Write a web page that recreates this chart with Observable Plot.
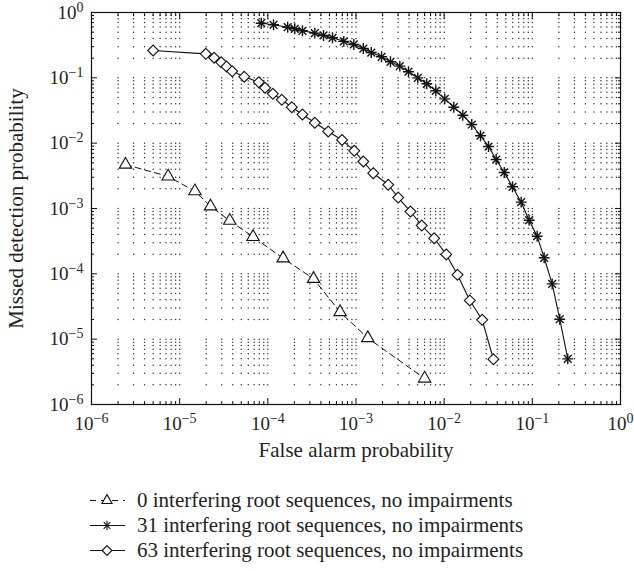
<!DOCTYPE html>
<html><head><meta charset="utf-8">
<script src="https://cdn.jsdelivr.net/npm/d3@7"></script>
<script src="https://cdn.jsdelivr.net/npm/@observablehq/plot@0.6"></script>
<style>
body{margin:0;background:#fff;font-family:"Liberation Serif",serif;color:#231f20}
#legend{margin-top:13px}
.row{height:25px;display:flex;align-items:center;font-size:21px;white-space:nowrap}
.row svg{margin-left:90px;margin-right:11px;flex:none}
</style></head><body>
<div id="chart"></div><div id="legend"></div>
<script>
const xLabel = "False alarm probability";
const yLabel = "Missed detection probability";
const majorTicks = [1e-6, 1e-5, 1e-4, 1e-3, 1e-2, 1e-1, 1];
const seriesNames = [
  "0 interfering root sequences, no impairments",
  "31 interfering root sequences, no impairments",
  "63 interfering root sequences, no impairments"
];
// 0 interfering (triangles, dashed)
const s0x = [2.43e-6, 7.4e-6, 1.49e-5, 2.24e-5, 3.7e-5, 6.8e-5, 1.49e-4, 3.3e-4, 6.6e-4, 1.36e-3, 6.0e-3];
const s0y = [4.7e-3, 3.1e-3, 1.84e-3, 1.08e-3, 6.5e-4, 3.68e-4, 1.73e-4, 8.4e-5, 2.6e-5, 1.04e-5, 2.5e-6];
// 31 interfering (stars)
const s31x = [8.42e-5, 1.16e-4, 1.68e-4, 2.02e-4, 2.47e-4, 3.41e-4, 4.28e-4, 5.41e-4, 7.27e-4, 9.44e-4, 1.21e-3, 1.49e-3, 1.95e-3, 2.46e-3, 3.14e-3, 3.94e-3, 5.02e-3, 6.35e-3, 8.04e-3, 1.016e-2, 1.286e-2, 1.626e-2, 2.056e-2, 2.582e-2, 3.184e-2, 3.89e-2, 4.80e-2, 5.96e-2, 7.47e-2, 9.20e-2, 0.1134, 0.1362, 0.1679, 0.2047, 0.2523];
const s31y = [0.686, 0.648, 0.596, 0.563, 0.525, 0.483, 0.445, 0.410, 0.362, 0.324, 0.281, 0.244, 0.210, 0.176, 0.151, 0.124, 0.100, 0.0811, 0.0633, 0.0477, 0.0355, 0.0268, 0.0193, 0.0130, 8.89e-3, 5.62e-3, 3.56e-3, 2.15e-3, 1.25e-3, 6.62e-4, 3.77e-4, 1.76e-4, 7.03e-5, 2.02e-5, 5.0e-6];
// 63 interfering (diamonds)
const s63x = [5.0e-6, 1.98e-5, 2.46e-5, 2.96e-5, 3.4e-5, 3.94e-5, 5.4e-5, 7.9e-5, 9.3e-5, 1.14e-4, 1.44e-4, 1.87e-4, 2.47e-4, 3.41e-4, 4.84e-4, 6.94e-4, 9.55e-4, 1.21e-3, 1.57e-3, 2.32e-3, 3.01e-3, 4.15e-3, 5.57e-3, 7.7e-3, 1.055e-2, 1.416e-2, 1.953e-2, 2.70e-2, 3.62e-2];
const s63y = [0.262, 0.233, 0.203, 0.173, 0.149, 0.126, 0.104, 0.0858, 0.0704, 0.057, 0.0461, 0.0355, 0.0275, 0.0205, 0.0151, 0.0112, 7.64e-3, 5.24e-3, 3.47e-3, 2.31e-3, 1.47e-3, 8.99e-4, 5.49e-4, 3.50e-4, 1.98e-4, 9.66e-5, 3.91e-5, 1.98e-5, 4.93e-6];

const toRows = (xs, ys) => xs.map((x, i) => ({x, y: ys[i]}));
const d0 = toRows(s0x, s0y), d31 = toRows(s31x, s31y), d63 = toRows(s63x, s63y);

const minorTicks = [];
for (let k = 0; k < majorTicks.length - 1; k++) for (let m = 2; m <= 9; m++) minorTicks.push(m * majorTicks[k]);
const allTicks = majorTicks.concat(minorTicks);
// dotted grid rendered as points at the grid-line crossings
const gridPts = [];
allTicks.forEach(gx => allTicks.forEach(gy => gridPts.push({x: gx, y: gy})));
const fmt = d => { const e = Math.round(Math.log10(d)); return "10^" + (e < 0 ? "\u2212" + (-e) : String(e)); };

const ink = "#111";
const noText = () => "";
const tk = (data, o) => (o.anchor === "top" || o.anchor === "bottom" ? Plot.axisX : Plot.axisY)(data, {label: null, tickFormat: noText, stroke: ink, ...o});

const chart = Plot.plot({
  width: 634, height: 475,
  marginLeft: 91, marginRight: 14, marginTop: 12, marginBottom: 71,
  style: {fontFamily: "Liberation Serif, serif", fontSize: "19px", color: "#231f20", background: "#fff"},
  x: {type: "log", domain: [1e-6, 1], axis: null},
  y: {type: "log", domain: [1e-6, 1], axis: null},
  marks: [
    Plot.dot(gridPts, {x: "x", y: "y", r: 0.75, fill: "#333", stroke: null}),
    // inward ticks
    tk(majorTicks, {anchor: "bottom", tickSize: 6, dy: -6}),
    tk(minorTicks, {anchor: "bottom", tickSize: 3, dy: -3}),
    tk(majorTicks, {anchor: "top", tickSize: 6, dy: 6}),
    tk(minorTicks, {anchor: "top", tickSize: 3, dy: 3}),
    tk(majorTicks, {anchor: "left", tickSize: 6, dx: 6}),
    tk(minorTicks, {anchor: "left", tickSize: 3, dx: 3}),
    tk(majorTicks, {anchor: "right", tickSize: 6, dx: -6}),
    tk(minorTicks, {anchor: "right", tickSize: 3, dx: -3}),
    // tick labels
    Plot.axisX(majorTicks, {anchor: "bottom", label: null, tickSize: 0, tickPadding: 12, tickFormat: fmt, fill: "#231f20"}),
    Plot.axisY(majorTicks, {anchor: "left", label: null, tickSize: 0, tickPadding: 8, tickFormat: fmt, fill: "#231f20"}),
    Plot.frame({stroke: ink, strokeWidth: 1.2}),
    // series
    Plot.line(d0, {x: "x", y: "y", stroke: ink, strokeWidth: 1, strokeDasharray: "6,4"}),
    Plot.line(d31, {x: "x", y: "y", stroke: ink, strokeWidth: 1.1}),
    Plot.line(d63, {x: "x", y: "y", stroke: ink, strokeWidth: 1.1}),
    Plot.dot(d0, {x: "x", y: "y", symbol: "triangle", r: 4.6, fill: "#fff", stroke: ink, strokeWidth: 1.1}),
    Plot.dot(d63, {x: "x", y: "y", symbol: "diamond2", r: 4.9, fill: "#fff", stroke: ink, strokeWidth: 1.1}),
    Plot.dot(d31, {x: "x", y: "y", symbol: "plus", r: 3.6, stroke: ink, strokeWidth: 1.4}),
    Plot.dot(d31, {x: "x", y: "y", symbol: "times", r: 3.6, stroke: ink, strokeWidth: 1.4}),
    // axis titles
    Plot.text([xLabel], {frameAnchor: "bottom", text: d => d, dy: 52, fontSize: 21, fill: "#231f20"}),
    Plot.text([yLabel], {frameAnchor: "left", textAnchor: "middle", text: d => d, rotate: -90, dx: -75, fontSize: 21, fill: "#231f20"})
  ]
});

// superscript exponents in tick labels
chart.querySelectorAll("text").forEach(t => {
  const s = t.textContent;
  const m = /^10\^(.+)$/.exec(s);
  if (!m) return;
  while (t.firstChild) t.removeChild(t.firstChild);
  const ns = "http://www.w3.org/2000/svg";
  const a = document.createElementNS(ns, "tspan"); a.textContent = "10";
  const b = document.createElementNS(ns, "tspan"); b.textContent = m[1];
  b.setAttribute("dy", "-0.5em"); b.setAttribute("font-size", "14px");
  t.appendChild(a); t.appendChild(b);
});
document.getElementById("chart").appendChild(chart);

// legend
const legend = document.getElementById("legend");
const specs = [
  {name: seriesNames[0], dash: "6,5", sym: [d3.symbolTriangle], size: 45, fill: "#fff"},
  {name: seriesNames[1], dash: null, sym: [d3.symbolPlus, d3.symbolTimes], size: 30, fill: "none"},
  {name: seriesNames[2], dash: null, sym: [d3.symbolDiamond2], size: 60, fill: "#fff"}
];
specs.forEach(s => {
  const row = document.createElement("div"); row.className = "row";
  const svg = d3.create("svg").attr("width", 36).attr("height", 25);
  svg.append("line").attr("x1", 0).attr("x2", 35).attr("y1", 12.5).attr("y2", 12.5)
    .attr("stroke", ink).attr("stroke-width", 1.1).attr("stroke-dasharray", s.dash);
  s.sym.forEach(sy => svg.append("path").attr("d", d3.symbol(sy, s.size)())
    .attr("transform", "translate(17,12.5)").attr("fill", s.fill).attr("stroke", ink).attr("stroke-width", 1.1));
  row.appendChild(svg.node());
  const span = document.createElement("span"); span.textContent = s.name;
  row.appendChild(span);
  legend.appendChild(row);
});
</script>
</body></html>
